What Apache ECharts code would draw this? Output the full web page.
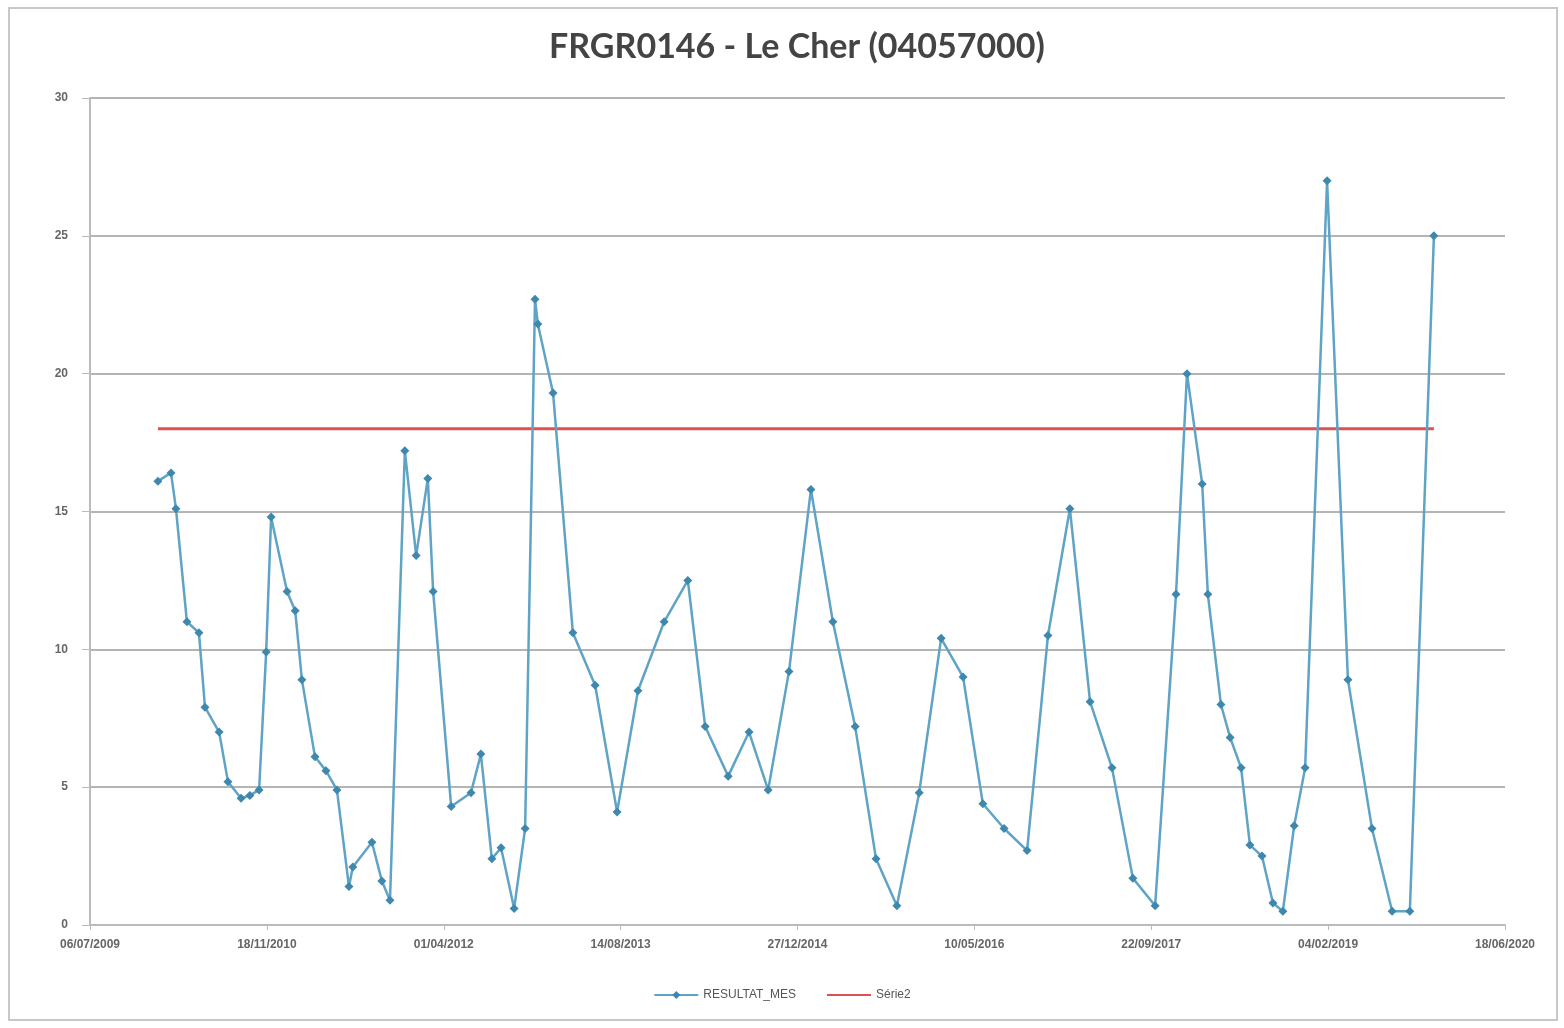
<!DOCTYPE html>
<html>
<head>
<meta charset="utf-8">
<script src="https://cdn.jsdelivr.net/npm/echarts@6/dist/echarts.min.js"></script>
<style>html,body{margin:0;padding:0;background:#fff}#c{width:1564px;height:1028px}</style>
</head>
<body>
<div id="c"></div>
<script>
// Dates as Excel serial day numbers
var sampleDays = [40192,40229,40243,40274,40308,40325,40365,40390,40427,40452,40478,40498,40512,40557,40580,40599,40636,40667,40698,40732,40743,40797,40825,40848,40890,40922,40955,40970,41021,41077,41105,41136,41162,41199,41230,41258,41266,41309,41365,41428,41490,41549,41623,41690,41739,41804,41863,41917,41976,42038,42100,42163,42222,42281,42344,42406,42468,42524,42584,42649,42708,42770,42827,42889,42948,43011,43070,43101,43144,43160,43197,43223,43254,43279,43313,43344,43372,43404,43435,43497,43556,43624,43681,43731,43799];
var sampleValues = [16.1,16.4,15.1,11.0,10.6,7.9,7.0,5.2,4.6,4.7,4.9,9.9,14.8,12.1,11.4,8.9,6.1,5.6,4.9,1.4,2.1,3.0,1.6,0.9,17.2,13.4,16.2,12.1,4.3,4.8,6.2,2.4,2.8,0.6,3.5,22.7,21.8,19.3,10.6,8.7,4.1,8.5,11.0,12.5,7.2,5.4,7.0,4.9,9.2,15.8,11.0,7.2,2.4,0.7,4.8,10.4,9.0,4.4,3.5,2.7,10.5,15.1,8.1,5.7,1.7,0.7,12.0,20.0,16.0,12.0,8.0,6.8,5.7,2.9,2.5,0.8,0.5,3.6,5.7,27.0,8.9,3.5,0.5,0.5,25.0];
var thresholdDays = [40192,43799];
var thresholdValues = [18,18];
var seriesNames = ['RESULTAT_MES','Série2'];
var titleText = 'FRGR0146 - Le Cher (04057000)';

function serialToLabel(s){
  var d = new Date(Date.UTC(1899,11,30) + Math.round(s)*86400000);
  var dd = ('0'+d.getUTCDate()).slice(-2), mm = ('0'+(d.getUTCMonth()+1)).slice(-2);
  return dd+'/'+mm+'/'+d.getUTCFullYear();
}
var mainData = sampleDays.map(function(d,i){return [d, sampleValues[i]];});
var thrData = thresholdDays.map(function(d,i){return [d, thresholdValues[i]];});

var chart = echarts.init(document.getElementById('c'));
chart.setOption({
  backgroundColor:'#fff',
  animation:false,
  title:{text:titleText,left:792,top:25,textAlign:'center',
    textStyle:{fontFamily:'Lato',fontSize:34,fontWeight:'bold',color:'#444'}},
  graphic:[{type:'rect',shape:{x:9,y:8,width:1548,height:1012},style:{fill:'none',stroke:'#c8c8c8',lineWidth:2}}],
  legend:{bottom:22,left:'center',itemGap:30,itemWidth:44,itemHeight:10,
    textStyle:{fontFamily:'Liberation Sans',fontSize:12,color:'#555'},
    data:seriesNames},
  grid:{left:90,right:59,top:98,bottom:103,containLabel:false},
  xAxis:{type:'value',min:40000,max:44000,interval:500,
    axisLine:{show:true,lineStyle:{color:'#bbb',width:2}},
    axisTick:{show:true,length:5,lineStyle:{color:'#bbb'}},
    splitLine:{show:false},
    axisLabel:{formatter:serialToLabel,margin:14,fontFamily:'Liberation Sans',fontSize:12,color:'#666',fontWeight:'bold'}},
  yAxis:{type:'value',min:0,max:30,interval:5,
    axisLine:{show:true,lineStyle:{color:'#bbb',width:2}},
    axisTick:{show:true,length:8,lineStyle:{color:'#bbb'}},
    splitLine:{show:true,lineStyle:{color:'#b4b4b4',width:2}},
    axisLabel:{margin:22,fontFamily:'Liberation Sans',fontSize:12,color:'#666',fontWeight:'bold'}},
  series:[
    {name:seriesNames[0],type:'line',data:mainData,symbol:'diamond',symbolSize:9,
      lineStyle:{color:'#5fa3c6',width:2.5},itemStyle:{color:'#3f88ad'},z:3},
    {name:seriesNames[1],type:'line',data:thrData,symbol:'line',showSymbol:false,
      lineStyle:{color:'#e05050',width:3},itemStyle:{color:'#e05050'},z:2}
  ]
});
</script>
</body>
</html>
